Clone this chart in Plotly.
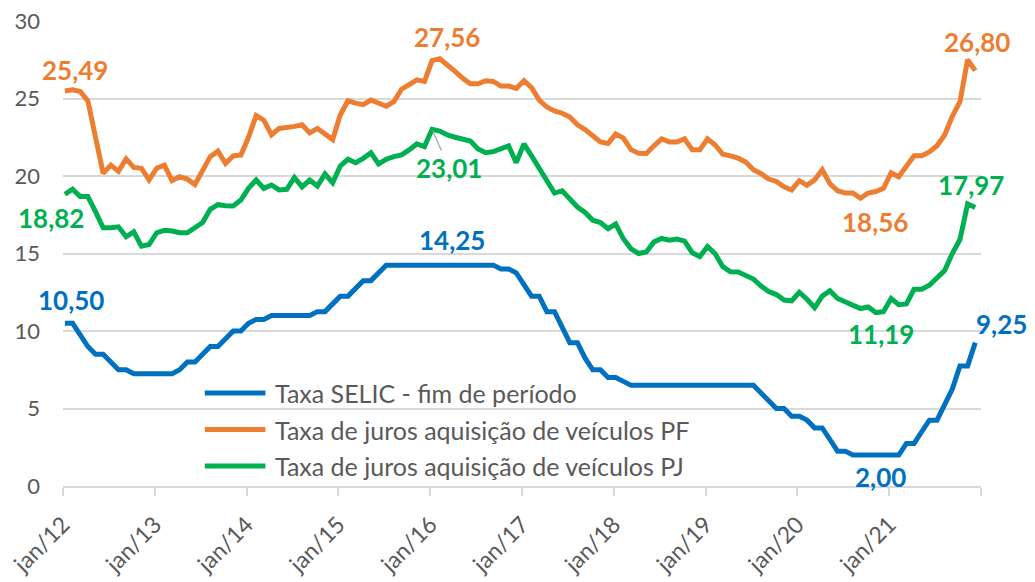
import plotly.graph_objects as go

# ---- data (monthly, jan/2012 .. dez/2021) ----
tick_labels = ["jan/12", "jan/13", "jan/14", "jan/15", "jan/16",
               "jan/17", "jan/18", "jan/19", "jan/20", "jan/21"]

selic = [
    10.5, 10.5, 9.75, 9.0, 8.5, 8.5, 8.0, 7.5, 7.5, 7.25, 7.25, 7.25,
    7.25, 7.25, 7.25, 7.5, 8.0, 8.0, 8.5, 9.0, 9.0, 9.5, 10.0, 10.0,
    10.5, 10.75, 10.75, 11.0, 11.0, 11.0, 11.0, 11.0, 11.0, 11.25, 11.25, 11.75,
    12.25, 12.25, 12.75, 13.25, 13.25, 13.75, 14.25, 14.25, 14.25, 14.25, 14.25, 14.25,
    14.25, 14.25, 14.25, 14.25, 14.25, 14.25, 14.25, 14.25, 14.25, 14.0, 14.0, 13.75,
    13.0, 12.25, 12.25, 11.25, 11.25, 10.25, 9.25, 9.25, 8.25, 7.5, 7.5, 7.0,
    7.0, 6.75, 6.5, 6.5, 6.5, 6.5, 6.5, 6.5, 6.5, 6.5, 6.5, 6.5,
    6.5, 6.5, 6.5, 6.5, 6.5, 6.5, 6.5, 6.0, 5.5, 5.0, 5.0, 4.5,
    4.5, 4.25, 3.75, 3.75, 3.0, 2.25, 2.25, 2.0, 2.0, 2.0, 2.0, 2.0,
    2.0, 2.0, 2.75, 2.75, 3.5, 4.25, 4.25, 5.25, 6.25, 7.75, 7.75, 9.25,
]

veic_pf = [
    25.49, 25.56, 25.45, 24.85, 22.5, 20.17, 20.7, 20.3, 21.1, 20.55, 20.5, 19.75,
    20.5, 20.7, 19.7, 19.95, 19.8, 19.45, 20.35, 21.25, 21.6, 20.8, 21.3, 21.35,
    22.5, 23.9, 23.6, 22.65, 23.07, 23.1, 23.2, 23.3, 22.78, 23.07, 22.75, 22.35,
    23.95, 24.85, 24.7, 24.6, 24.9, 24.7, 24.5, 24.8, 25.6, 25.9, 26.2, 26.1,
    27.45, 27.56, 27.1, 26.75, 26.3, 25.95, 25.95, 26.15, 26.1, 25.8, 25.8, 25.65,
    26.15, 25.7, 24.9, 24.45, 24.2, 24.05, 23.8, 23.3, 23.0, 22.6, 22.2, 22.1,
    22.72, 22.45, 21.7, 21.47, 21.45, 21.95, 22.4, 22.2, 22.2, 22.4, 21.7, 21.7,
    22.4, 22.0, 21.4, 21.3, 21.15, 20.9, 20.4, 20.15, 19.8, 19.65, 19.3, 19.1,
    19.7, 19.4, 19.75, 20.4, 19.5, 19.05, 18.9, 18.9, 18.56, 18.9, 19.0, 19.2,
    20.2, 19.95, 20.65, 21.3, 21.3, 21.55, 21.95, 22.65, 23.85, 24.8, 27.5, 26.80,
]

veic_pj = [
    18.82, 19.15, 18.67, 18.67, 17.7, 16.66, 16.66, 16.72, 16.08, 16.4, 15.47, 15.58,
    16.34, 16.5, 16.45, 16.34, 16.34, 16.7, 17.0, 17.85, 18.15, 18.08, 18.06, 18.45,
    19.2, 19.74, 19.2, 19.42, 19.1, 19.14, 19.9, 19.3, 19.74, 19.35, 20.13, 19.57,
    20.65, 21.08, 20.86, 21.14, 21.5, 20.78, 21.08, 21.25, 21.36, 21.68, 22.07, 21.9,
    23.01, 22.9, 22.65, 22.5, 22.37, 22.26, 21.75, 21.5, 21.57, 21.79, 21.94, 20.86,
    22.07, 21.3, 20.5, 19.7, 18.9, 19.05, 18.5, 18.0, 17.65, 17.15, 17.0, 16.6,
    16.9, 15.95, 15.3, 15.0, 15.1, 15.75, 15.97, 15.86, 15.93, 15.8, 15.05, 14.8,
    15.45, 14.98, 14.15, 13.82, 13.8, 13.6, 13.35, 12.9, 12.55, 12.35, 12.0, 11.95,
    12.5, 12.05, 11.5, 12.25, 12.6, 12.1, 11.9, 11.7, 11.45, 11.55, 11.19, 11.25,
    12.1, 11.7, 11.75, 12.7, 12.7, 12.95, 13.4, 13.9, 15.0, 15.9, 18.2, 17.97,
]

series_names = ["Taxa SELIC - fim de período",
                "Taxa de juros aquisição de veículos PF",
                "Taxa de juros aquisição de veículos PJ"]
series_colors = ["#0070C0", "#ED7D31", "#00B050"]
series_values = [selic, veic_pf, veic_pj]

# data labels: (series index, month index, xshift px, yshift px)
label_specs = [
    (0, 0, 6, 23), (0, 49, 12, 25), (0, 106, 5, -22), (0, 119, 26, 19),
    (1, 0, 10, 21), (1, 49, 7, 22), (1, 104, 14, -24), (1, 119, 2, 29),
    (2, 0, -14, -24), (2, 106, 5, -21), (2, 119, -4, 22),
]

OFFSET = 0.25  # points sit slightly right of the tick marks
n = len(selic)
xs = [i + OFFSET for i in range(n)]

FONT = "Lato, 'Open Sans', sans-serif"
GRAY = "#595959"

fig = go.Figure()
for name, col, vals in zip(series_names, series_colors, series_values):
    fig.add_trace(go.Scatter(
        x=xs, y=vals, mode="lines", name=name, showlegend=False,
        line=dict(color=col, width=5, shape="linear"),
        hoverinfo="skip",
    ))

annotations = []
for s, i, dx, dy in label_specs:
    v = series_values[s][i]
    annotations.append(dict(
        x=xs[i], y=v, xref="x", yref="y",
        text=f"{v:.2f}".replace(".", ","),
        showarrow=False, xshift=dx, yshift=dy,
        font=dict(family=FONT, size=26, color=series_colors[s], weight="bold"),
        xanchor="center", yanchor="middle",
    ))

# green peak label with leader line
v = veic_pj[48]
annotations.append(dict(
    x=xs[48], y=v, xref="x", yref="y",
    text=f"{v:.2f}".replace(".", ","),
    showarrow=True, arrowhead=0, arrowwidth=1.2, arrowcolor="#A6A6A6",
    ax=17, ay=39, standoff=2,
    font=dict(family=FONT, size=26, color=series_colors[2], weight="bold"),
))

# manual legend (long line keys as in the reference)
shapes = []
leg_rows = [0.200, 0.1215, 0.043]
for name, col, yy in zip(series_names, series_colors, leg_rows):
    shapes.append(dict(type="line", xref="paper", yref="paper",
                       x0=0.1545, x1=0.2205, y0=yy, y1=yy,
                       line=dict(color=col, width=5)))
    annotations.append(dict(x=0.2285, y=yy, xref="paper", yref="paper",
                            text=name, showarrow=False,
                            xanchor="left", yanchor="middle",
                            font=dict(family=FONT, size=25, color=GRAY)))

tickvals = list(range(0, n, 12))
fig.update_layout(
    width=1035, height=582,
    margin=dict(l=55, r=62, t=13, b=104, autoexpand=False),
    paper_bgcolor="white", plot_bgcolor="white",
    font=dict(family=FONT, color=GRAY),
    annotations=annotations, shapes=shapes,
    showlegend=False,
)
fig.update_xaxes(
    range=[0, 120], tickmode="array",
    tickvals=tickvals + [120], ticktext=tick_labels + [""],
    tickangle=-45, ticks="outside", ticklen=8, tickcolor="#D9D9D9", tickwidth=1.5,
    showline=True, linecolor="#D9D9D9", linewidth=2,
    showgrid=False, zeroline=False, automargin=False,
    ticklabelstandoff=6, ticklabeloverflow="allow",
    tickfont=dict(family=FONT, size=23, color=GRAY),
)
fig.update_yaxes(
    range=[0, 30], tickvals=[0, 5, 10, 15, 20, 25, 30],
    showgrid=True, gridcolor="#D9D9D9", gridwidth=1.5,
    zeroline=False, showline=False, ticks="", automargin=False,
    ticklabelstandoff=22, ticklabeloverflow="allow",
    tickfont=dict(family=FONT, size=22, color=GRAY),
)

fig.write_html("out.html")
